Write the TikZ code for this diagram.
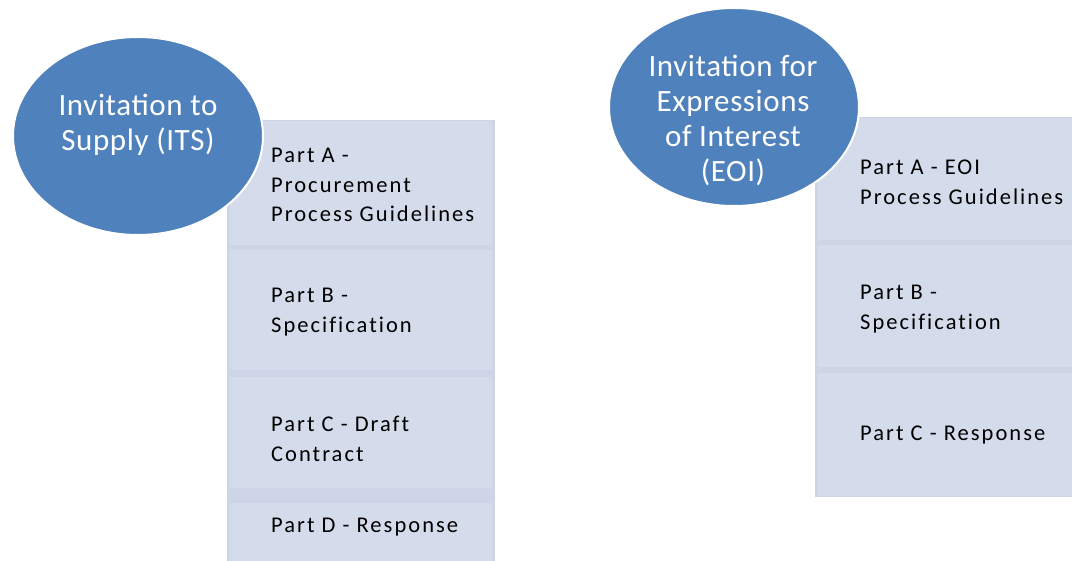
\documentclass[tikz,border=0pt]{standalone}
\usepackage{fontspec}
\setmainfont{Carlito}
\newfontfamily\partfont[LetterSpace=9, Ligatures=NoCommon]{Carlito}
\newfontfamily\discfont[LetterSpace=2]{Carlito}
\usetikzlibrary{shapes.geometric, positioning}

\definecolor{discblue}{HTML}{4F81BD}
\definecolor{partfill}{HTML}{D4DBEA}
\definecolor{partedge}{HTML}{CED5E6}

\tikzset{
  disc/.style={ellipse, fill=discblue, draw=white, line width=2pt,
    minimum width=250pt, minimum height=198pt, inner sep=0pt},
  disctext/.style={text=white, align=center,
    font=\discfont\fontsize{31}{35}\selectfont},
  column/.style={rectangle, fill=partedge, anchor=north west, inner sep=0pt},
  partbox/.style={rectangle, fill=partfill, anchor=north west, inner sep=0pt},
  parttext/.style={anchor=west, align=left, inner sep=0pt,
    font=\partfont\fontsize{22.5}{29.5}\selectfont},
}

\begin{document}
\begin{tikzpicture}[x=1pt,y=-1pt]
  \useasboundingbox (0,0) rectangle (1072,561);
  \clip (0,0) rectangle (1072,561);

  % ITS parts
  \node[column, minimum width=268pt, minimum height=450pt] (itsCol) at (227,120) {};
  \node[partbox, minimum width=262pt, minimum height=124pt] (itsA) at (230,121) {};
  \node[partbox, minimum width=262pt, minimum height=120pt] (itsB) at (230,250) {};
  \node[partbox, minimum width=262pt, minimum height=111pt] (itsC) at (230,377) {};
  \node[partbox, minimum width=262pt, minimum height=70pt]  (itsD) at (230,503) {};

  \node[parttext, right=41pt of itsA.west, yshift=-2pt] (itsAtext) {Part A -\\Procurement\\Process Guidelines};
  \node[parttext, right=41pt of itsB.west, yshift=-2pt] (itsBtext) {Part B -\\Specification};
  \node[parttext, right=41pt of itsC.west, yshift=-6pt] (itsCtext) {Part C - Draft\\Contract};
  \node[parttext] (itsDtext) at (271,527) {Part D - Response};

  % EOI parts
  \node[column, minimum width=270pt, minimum height=380pt] (eoiCol) at (815,117) {};
  \node[partbox, minimum width=264pt, minimum height=122pt] (eoiA) at (818,118) {};
  \node[partbox, minimum width=264pt, minimum height=122pt] (eoiB) at (818,245) {};
  \node[partbox, minimum width=264pt, minimum height=123pt] (eoiC) at (818,373) {};

  \node[parttext, right=42pt of eoiA.west, yshift=-3pt] (eoiAtext) {Part A - EOI\\Process Guidelines};
  \node[parttext, right=42pt of eoiB.west, yshift=-3pt] (eoiBtext) {Part B -\\Specification};
  \node[parttext, right=42pt of eoiC.west] (eoiCtext) {Part C - Response};

  % the two invitation discs sit on top of the part columns
  \node[disc] (its) at (138,136) {};
  \node[disctext] (itsLabel) at (138,125) {Invitation to\\Supply (ITS)};

  \node[disc] (eoi) at (734,107) {};
  \node[disctext] (eoiLabel) at (733,120) {Invitation for\\Expressions\\of Interest\\(EOI)};
\end{tikzpicture}
\end{document}
